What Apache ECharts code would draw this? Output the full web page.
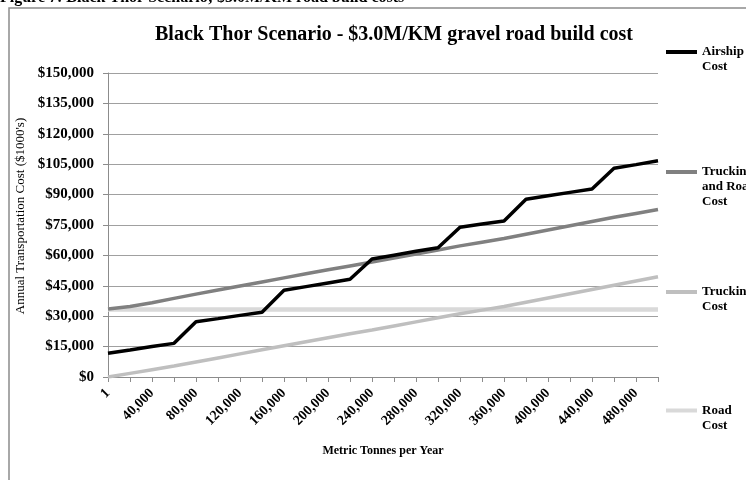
<!DOCTYPE html>
<html>
<head>
<meta charset="utf-8">
<script src="https://cdn.jsdelivr.net/npm/echarts@6/dist/echarts.min.js"></script>
<style>
  html, body { margin: 0; padding: 0; background: #fff; }
  #chart { width: 746px; height: 480px; }
</style>
</head>
<body>
<div id="chart"></div>
<script>
// metric tonnes per year (category axis)
var tonnes = [1, 20000, 40000, 60000, 80000, 100000, 120000, 140000, 160000, 180000,
  200000, 220000, 240000, 260000, 280000, 300000, 320000, 340000, 360000, 380000,
  400000, 420000, 440000, 460000, 480000, 500000];

// annual transportation cost ($1000's)
var airship = [11700, 13300, 15000, 16600, 27300, 28800, 30400, 31900, 42800, 44600,
  46400, 48200, 58200, 60100, 62000, 63800, 73900, 75500, 77000, 87700,
  89400, 91100, 92800, 103000, 104800, 106700];
var truckingRoad = [33600, 34800, 36600, 38800, 40900, 42900, 44900, 46900, 48900, 50900,
  52900, 54800, 56700, 58700, 60700, 62700, 64700, 66500, 68300, 70400,
  72500, 74600, 76700, 78800, 80700, 82600];
var trucking = [0, 1800, 3600, 5400, 7400, 9400, 11400, 13400, 15400, 17400,
  19400, 21300, 23200, 25200, 27200, 29200, 31200, 33000, 34800, 36900,
  39000, 41100, 43200, 45300, 47400, 49500];
var road = [33300, 33300, 33300, 33300, 33300, 33300, 33300, 33300, 33300, 33300,
  33300, 33300, 33300, 33300, 33300, 33300, 33300, 33300, 33300, 33300,
  33300, 33300, 33300, 33300, 33300, 33300];

var serif = "'Liberation Serif', 'Times New Roman', serif";

function fmt(v) {
  return Number(v).toLocaleString('en-US');
}

var chart = echarts.init(document.getElementById('chart'));

// one legend box per series so each sits at its own height
function legendFor(name, text, top) {
  return {
    data: [name],
    left: 666,
    top: top,
    padding: 0,
    icon: 'rect',
    itemWidth: 31,
    itemHeight: 4,
    selectedMode: false,
    formatter: function () { return text; },
    textStyle: { fontFamily: serif, fontWeight: 'bold', fontSize: 13, lineHeight: 15, color: '#000' }
  };
}

var option = {
  animation: false,
  backgroundColor: '#fff',
  title: {
    text: 'Black Thor Scenario - $3.0M/KM gravel road build cost',
    left: 389,
    textAlign: 'center',
    top: 20,
    textStyle: { fontFamily: serif, fontWeight: 'bold', fontSize: 20, color: '#000' }
  },
  legend: [
    legendFor('Airship Cost', ' \nAirship\nCost', 29.5),
    legendFor('Trucking and Road Cost', ' \n \nTrucking\nand Road\nCost', 134.5),
    legendFor('Trucking Cost', ' \nTrucking\nCost', 269.5),
    legendFor('Road Cost', ' \nRoad\nCost', 388)
  ],
  grid: { left: 108, right: 88, top: 73, bottom: 103, containLabel: false },
  xAxis: {
    type: 'category',
    data: tonnes,
    boundaryGap: false,
    name: 'Metric Tonnes per Year',
    nameLocation: 'middle',
    nameGap: 68,
    nameTextStyle: { fontFamily: serif, fontWeight: 'bold', fontSize: 12, color: '#000' },
    axisLine: { lineStyle: { color: '#8c8c8c', width: 1 } },
    axisTick: { show: true, interval: 0, length: 5, lineStyle: { color: '#8c8c8c' } },
    axisLabel: {
      interval: 1,
      rotate: 45,
      margin: 14,
      fontFamily: serif,
      fontWeight: 'bold',
      fontSize: 14,
      color: '#000',
      formatter: function (v) { return fmt(v); }
    },
    splitLine: { show: false }
  },
  yAxis: {
    type: 'value',
    min: 0,
    max: 150000,
    interval: 15000,
    name: "Annual Transportation Cost ($1000's)",
    nameLocation: 'middle',
    nameRotate: 90,
    nameGap: 76,
    nameTextStyle: { fontFamily: serif, fontSize: 13, color: '#000', padding: [0, 0, 0, 18] },
    axisLine: { show: true, lineStyle: { color: '#8c8c8c', width: 1 } },
    axisTick: { show: true, length: 5, lineStyle: { color: '#8c8c8c' } },
    axisLabel: {
      margin: 14,
      fontFamily: serif,
      fontWeight: 'bold',
      fontSize: 15,
      color: '#000',
      formatter: function (v) { return '$' + fmt(v); }
    },
    splitLine: { show: true, lineStyle: { color: '#a0a0a0', width: 1 } }
  },
  series: [
    {
      name: 'Road Cost', type: 'line', data: road, symbol: 'none',
      lineStyle: { color: '#d9d9d9', width: 4.5 }, itemStyle: { color: '#d9d9d9' }
    },
    {
      name: 'Trucking Cost', type: 'line', data: trucking, symbol: 'none',
      lineStyle: { color: '#bfbfbf', width: 3.5 }, itemStyle: { color: '#bfbfbf' }
    },
    {
      name: 'Trucking and Road Cost', type: 'line', data: truckingRoad, symbol: 'none',
      lineStyle: { color: '#808080', width: 3.5 }, itemStyle: { color: '#808080' }
    },
    {
      name: 'Airship Cost', type: 'line', data: airship, symbol: 'none',
      lineStyle: { color: '#000', width: 3.5 }, itemStyle: { color: '#000' }
    }
  ],
  graphic: [
    {
      // outer frame of the chart object
      type: 'rect',
      shape: { x: 9, y: 8, width: 800, height: 520 },
      style: { fill: 'none', stroke: '#8c8c8c', lineWidth: 1.5 },
      silent: true
    },
    {
      // document caption, cut off by the top edge
      type: 'text',
      left: 0,
      top: -10,
      style: {
        text: 'Figure 7: Black Thor Scenario; $3.0M/KM road build costs',
        font: 'bold 16px ' + serif,
        fill: '#000'
      },
      silent: true
    }
  ]
};

chart.setOption(option);
</script>
</body>
</html>
